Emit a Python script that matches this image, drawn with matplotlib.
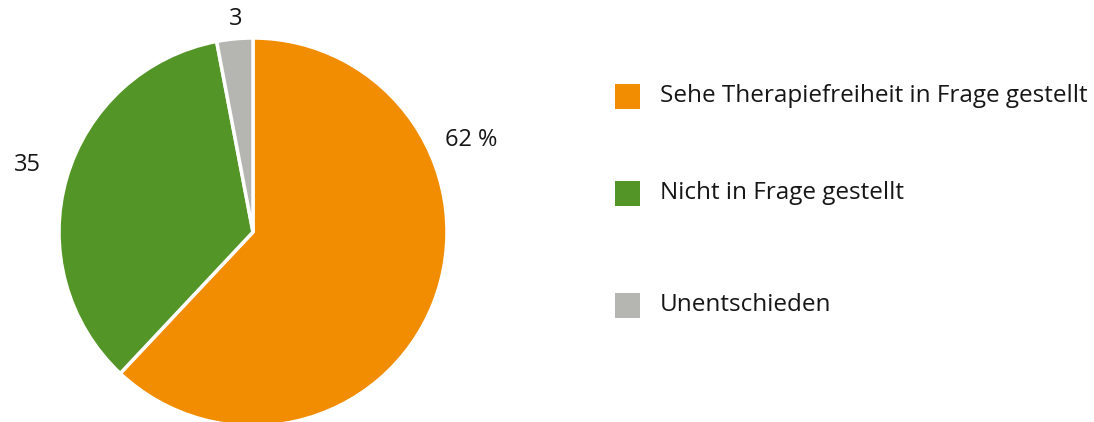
import numpy as np
import matplotlib
matplotlib.use("Agg")
import matplotlib.pyplot as plt
from matplotlib.patches import Rectangle

categories = ["Sehe Therapiefreiheit in Frage gestellt", "Nicht in Frage gestellt", "Unentschieden"]
values = [62, 35, 3]
value_labels = ["62 %", "35", "3"]
colors = ["#F28C00", "#549527", "#B5B5B1"]

plt.rcParams["font.family"] = ["Open Sans", "DejaVu Sans"]
text_color = "#161616"

W, H = 1094, 422
fig = plt.figure(figsize=(W / 100, H / 100), dpi=100)

# pie centre (253, 232) px, radius 194 px
cx, cy, r = 253, 232, 194
ax = fig.add_axes([(cx - r) / W, (H - cy - r) / H, 2 * r / W, 2 * r / H])
wedges, _ = ax.pie(values, colors=colors, startangle=90, counterclock=False,
                   radius=1, wedgeprops=dict(edgecolor="white", linewidth=2.5))
for w in wedges:
    w.set_clip_on(False)
ax.set_xlim(-1, 1)
ax.set_ylim(-1, 1)
ax.axis("off")

# value labels: (angle in degrees, distance from centre in radii)
label_pos = [(23, 1.22), (163.5, 1.21), (94.6, 1.10)]
for txt, (ang, d) in zip(value_labels, label_pos):
    a = np.deg2rad(ang)
    ax.text(d * np.cos(a), d * np.sin(a), txt, ha="center", va="center",
            fontsize=17, color=text_color, clip_on=False)

# legend
row_y = [96, 193, 305]
for cat, col, y in zip(categories, colors, row_y):
    fig.patches.append(Rectangle((615 / W, (H - y - 12.5) / H), 25 / W, 25 / H,
                                 transform=fig.transFigure, facecolor=col,
                                 edgecolor="none"))
    fig.text(660 / W, (H - y) / H, cat, ha="left", va="center",
             fontsize=17.5, color=text_color)

fig.savefig("out.png", dpi=100)
